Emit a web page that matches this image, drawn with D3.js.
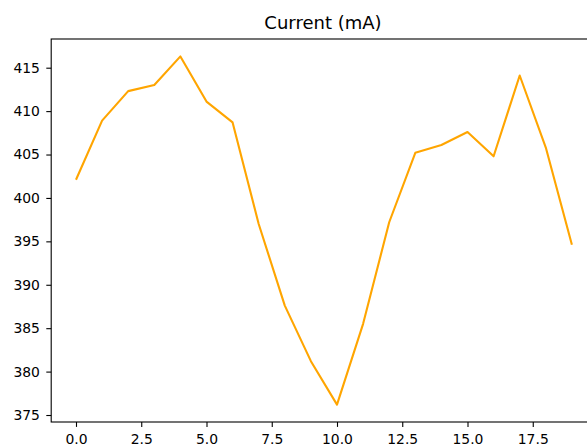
<!DOCTYPE html>
<html>
<head>
<meta charset="UTF-8">
<title>Current (mA)</title>
<script src="https://cdn.jsdelivr.net/npm/d3@7"></script>
<style>
  body { margin: 0; background: #fff; }
  text { font-family: "DejaVu Sans", sans-serif; }
</style>
</head>
<body>
<script>
// readings, one per sample index
var samples = d3.range(20);
var current = [402.1, 408.9, 412.3, 413.0, 416.3, 411.1, 408.7, 397.0, 387.6, 381.2,
               376.2, 385.5, 397.2, 405.2, 406.1, 407.6, 404.8, 414.1, 405.8, 394.6];
var xTicks = [0, 2.5, 5, 7.5, 10, 12.5, 15, 17.5];
var yTicks = [375, 380, 385, 390, 395, 400, 405, 410, 415];
var title = "Current (mA)";

var W = 587, H = 447;
// axes box (right edge falls outside the picture, same as the reference)
var axLeft = 51.2, axRight = 596.7, axTop = 39, axBottom = 422;

var svg = d3.select("body").append("svg")
  .attr("width", W)
  .attr("height", H);

// matplotlib style 5% margins
var xr = d3.extent(samples), yr = d3.extent(current);
var xm = (xr[1] - xr[0]) * 0.05, ym = (yr[1] - yr[0]) * 0.05;

var x = d3.scaleLinear().domain([xr[0] - xm, xr[1] + xm]).range([axLeft, axRight]);
var y = d3.scaleLinear().domain([yr[0] - ym, yr[1] + ym]).range([axBottom, axTop]);

var xAxis = svg.append("g")
  .attr("transform", "translate(0," + axBottom + ")")
  .call(d3.axisBottom(x).tickValues(xTicks).tickFormat(d3.format(".1f"))
    .tickSize(4.9).tickPadding(6.9).tickSizeOuter(0));

var yAxis = svg.append("g")
  .attr("transform", "translate(" + axLeft + ",0)")
  .call(d3.axisLeft(y).tickValues(yTicks).tickFormat(d3.format("d"))
    .tickSize(4.9).tickPadding(6.4).tickSizeOuter(0));

[xAxis, yAxis].forEach(function (g) {
  g.select(".domain").remove();
  g.selectAll(".tick line").attr("stroke", "#000").attr("stroke-width", 1.1);
  g.selectAll(".tick text")
    .attr("fill", "#000")
    .style("font-size", "13.9px")
    .style("font-family", "DejaVu Sans, sans-serif");
});

// the series line
var line = d3.line()
  .x(function (d, i) { return x(samples[i]); })
  .y(function (d) { return y(d); });

svg.append("path")
  .datum(current)
  .attr("fill", "none")
  .attr("stroke", "#ffa500")
  .attr("stroke-width", 2.1)
  .attr("stroke-linejoin", "round")
  .attr("d", line);

// spines
svg.append("rect")
  .attr("x", axLeft)
  .attr("y", axTop)
  .attr("width", axRight - axLeft)
  .attr("height", axBottom - axTop)
  .attr("fill", "none")
  .attr("stroke", "#000")
  .attr("stroke-width", 1.1);

svg.append("text")
  .attr("x", (axLeft + axRight) / 2 - 1)
  .attr("y", 28.5)
  .attr("text-anchor", "middle")
  .style("font-size", "18px")
  .attr("fill", "#000")
  .text(title);
</script>
</body>
</html>
